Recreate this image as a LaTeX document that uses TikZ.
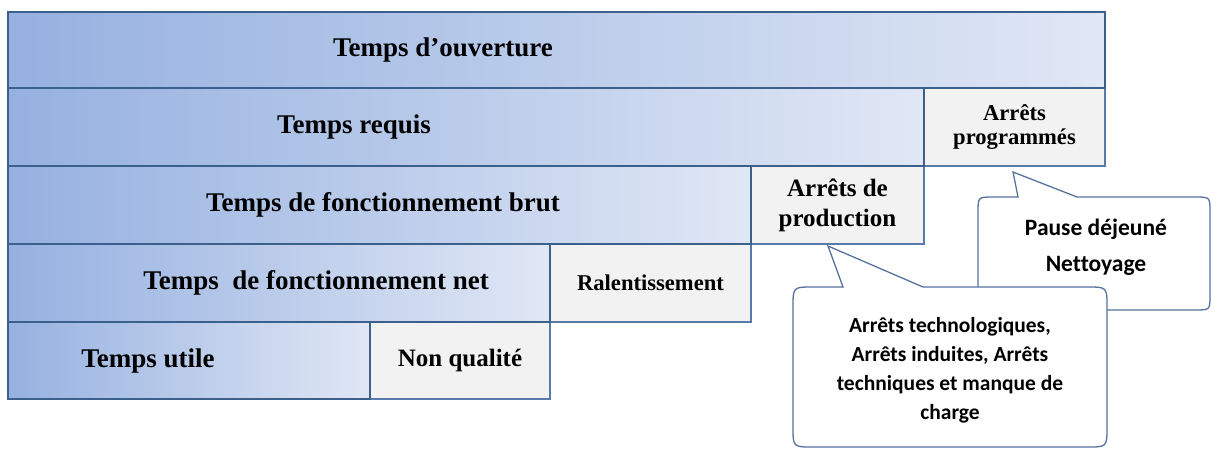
\documentclass[tikz,border=0pt]{standalone}
\usepackage{fontspec}
\setmainfont{Liberation Serif}
\newfontfamily\calfont[Ligatures=NoCommon]{Carlito}
\definecolor{bdark}{RGB}{60,96,140}
\definecolor{bleft}{RGB}{150,177,224}
\definecolor{bright}{RGB}{224,231,245}
\definecolor{gfill}{RGB}{242,242,242}
\definecolor{gline}{RGB}{88,122,170}
\definecolor{cline}{RGB}{84,115,160}
\begin{document}
\begin{tikzpicture}[x=1pt,y=-1pt,
  bluebox/.style={draw=bdark, line width=2.8pt, left color=bleft, right color=bright,
    anchor=north west, inner sep=0pt, outer sep=0pt},
  greybox/.style={draw=gline, line width=1.4pt, fill=gfill, anchor=north west,
    inner sep=0pt, outer sep=0pt, align=center},
  rowtext/.style={font=\bfseries\fontsize{27}{30}\selectfont, inner sep=0pt},
  callout/.style={draw=cline, line width=1.3pt, fill=white},
  calltext/.style={align=center, inner sep=0pt}]
\useasboundingbox (0,0) rectangle (1212,448);

% grey boxes
\node[greybox, minimum width=181pt, minimum height=78pt,
  font=\bfseries\fontsize{22.6}{24}\selectfont] (ap) at (924,88)
  {Arrêts\\programmés};
\node[greybox, minimum width=173pt, minimum height=78pt,
  font=\bfseries\fontsize{25}{30}\selectfont] (apr) at (751,166)
  {Arrêts de\\production};
\node[greybox, minimum width=201pt, minimum height=78pt,
  font=\bfseries\fontsize{22.6}{26}\selectfont] (ral) at (550,244)
  {Ralentissement};
\node[greybox, minimum width=180pt, minimum height=77pt,
  font=\bfseries\fontsize{25}{28}\selectfont] (nq) at (370,322)
  {Non qualité};

% blue boxes
\node[bluebox, minimum width=1097pt, minimum height=76pt] (ouv) at (8,12) {};
\node[bluebox, minimum width=916pt, minimum height=78pt] (req) at (8,88) {};
\node[bluebox, minimum width=743pt, minimum height=78pt] (brut) at (8,166) {};
\node[bluebox, minimum width=542pt, minimum height=78pt] (net) at (8,244) {};
\node[bluebox, minimum width=362pt, minimum height=77pt] (util) at (8,322) {};

\node[rowtext] (touv) at (443,50) {Temps d’ouverture};
\node[rowtext] (treq) at (354,127) {Temps requis};
\node[rowtext] (tbrut) at (383,205) {Temps de fonctionnement brut};
\node[rowtext] (tnet) at (316,283) {Temps\ \ de fonctionnement net};
\node[rowtext] (tutil) at (148,361) {Temps utile};

% callout 1
\coordinate (tip1) at (1013,172);
\draw[callout] (1018,197) -- (tip1) -- (1077,197) -- (1195,197)
  .. controls (1210,197) .. (1210,212) -- (1210,295)
  .. controls (1210,310) .. (1195,310) -- (993,310)
  .. controls (978,310) .. (978,295) -- (978,212)
  .. controls (978,197) .. (993,197) -- cycle;
\node[calltext, font=\calfont\bfseries\fontsize{23.5}{36}\selectfont] (c1) at (1096,247)
  {Pause déjeuné\\Nettoyage};

% callout 2
\coordinate (tip2) at (828,246);
\draw[callout] (843,287) -- (tip2) -- (923,287) -- (1087,287)
  .. controls (1107,287) .. (1107,307) -- (1107,427)
  .. controls (1107,447) .. (1087,447) -- (813,447)
  .. controls (793,447) .. (793,427) -- (793,307)
  .. controls (793,287) .. (813,287) -- cycle;
\node[calltext, font=\calfont\bfseries\fontsize{21.5}{29}\selectfont] (c2) at (950,370)
  {Arrêts technologiques,\\Arrêts induites, Arrêts\\techniques et manque de\\charge};
\end{tikzpicture}
\end{document}
